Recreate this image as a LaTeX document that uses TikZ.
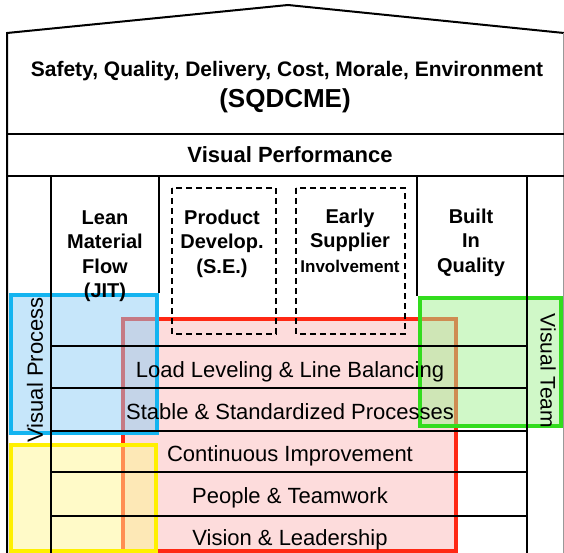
\documentclass[tikz,border=0pt]{standalone}
\usepackage{fontspec}
\setmainfont{Liberation Sans}
\definecolor{procline}{RGB}{20,180,240}
\definecolor{procfill}{RGB}{141,205,245}
\definecolor{baseline}{RGB}{255,40,20}
\definecolor{basefill}{RGB}{251,185,185}
\definecolor{qualline}{RGB}{50,220,30}
\definecolor{qualfill}{RGB}{161,241,145}
\definecolor{peopline}{RGB}{255,240,0}
\definecolor{peopfill}{RGB}{255,245,145}
\begin{document}
\begin{tikzpicture}[x=1pt,y=-1pt,
  zone/.style={line width=4pt,fill opacity=0.5},
  hdr/.style={anchor=base,font=\bfseries\fontsize{21}{25}\selectfont},
  pillar/.style={anchor=base,font=\bfseries\fontsize{20}{24}\selectfont},
  rowtext/.style={anchor=base,font=\fontsize{22}{26}\selectfont},
  side/.style={font=\fontsize{22}{26}\selectfont}]
\useasboundingbox (0,0) rectangle (564,553);
\filldraw[zone,draw=baseline,fill=basefill] (123,319) rectangle (456,551);
\filldraw[zone,draw=procline,fill=procfill] (11,295) rectangle (157,433);
\filldraw[zone,draw=qualline,fill=qualfill] (420,298) rectangle (561,426);
\filldraw[zone,draw=peopline,fill=peopfill] (11,445) rectangle (156,551);
\draw[line width=2pt] (7,553) -- (7,33) -- (288,5) -- (564,33);
\draw[black!40] (563,33) -- (563,553);
\draw[line width=1.5pt] (7,134) -- (564,134) (7,176) -- (564,176);
\draw[line width=1.5pt] (51,176) -- (51,553) (527,176) -- (527,553);
\draw[line width=1.5pt] (159,176) -- (159,293) (417,176) -- (417,296);
\foreach \y in {346,388,431,472,516} {
\draw[line width=1.2pt] (51,\y) -- (527,\y);
};
\draw[line width=1.2pt,dash pattern=on 6pt off 4pt] (172,188) rectangle (276,334);
\draw[line width=1.2pt,dash pattern=on 6pt off 4pt] (296,188) rectangle (405,334);
\node[hdr] (goals) at (287,77) {Safety, Quality, Delivery, Cost, Morale, Environment};
\node[hdr,font=\bfseries\fontsize{26}{30}\selectfont] (sqdcme) at (285,108) {(SQDCME)};
\node[hdr,font=\bfseries\fontsize{22}{26}\selectfont] (perf) at (290,163) {Visual Performance};
\foreach \txt [count=\i] in {Lean,Material,Flow,(JIT)} {
\node[pillar] (jit\i) at (105,199.5+24.5*\i) {\txt};
};
\foreach \txt [count=\i] in {Product,Develop.,(S.E.)} {
\node[pillar] (prod\i) at (222,199.5+24.5*\i) {\txt};
};
\foreach \txt [count=\i] in {Early,Supplier} {
\node[pillar] (supp\i) at (350,198.5+24.5*\i) {\txt};
};
\node[pillar,font=\bfseries\fontsize{17}{20}\selectfont] (supp3) at (350,272) {Involvement};
\foreach \txt [count=\i] in {Built,In,Quality} {
\node[pillar] (biq\i) at (471,198.5+24.5*\i) {\txt};
};
\foreach \txt [count=\i] in {Load Leveling \& Line Balancing,Stable \& Standardized Processes,Continuous Improvement,People \& Teamwork,Vision \& Leadership} {
\node[rowtext] (row\i) at (290,335+42*\i) {\txt};
};
\node[side,rotate=90] (vproc) at (35,370) {Visual Process};
\node[side,rotate=-90,font=\fontsize{21}{25}\selectfont] (vteam) at (548,371) {Visual Team};
\end{tikzpicture}
\end{document}
